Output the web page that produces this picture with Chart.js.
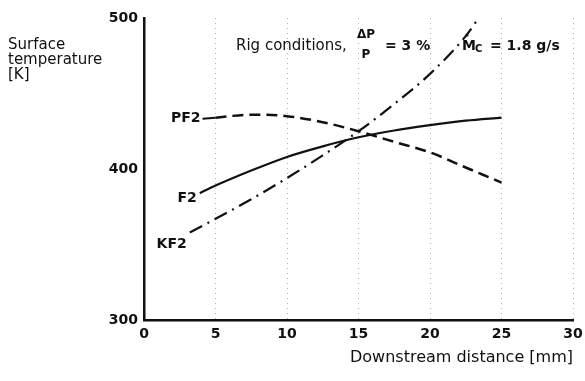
<!DOCTYPE html>
<html>
<head>
<meta charset="utf-8">
<script src="https://cdn.jsdelivr.net/npm/chart.js@4.4.1/dist/chart.umd.min.js"></script>
<style>
  html, body { margin: 0; padding: 0; background: #fff; }
  #wrap { width: 585px; height: 381px; }
</style>
</head>
<body>
<div id="wrap"><canvas id="chart"></canvas></div>
<script>
// values
const xTicks = [0, 5, 10, 15, 20, 25, 30];
const yTicks = [300, 400, 500];

const pf2X = [5, 7.5, 10, 12.5, 15, 17.5, 20, 22.5, 25];
const pf2Y = [434, 436, 435, 431, 425, 418, 411, 401, 391];

const f2X = [3.9, 5, 7.5, 10, 12.5, 15, 17.5, 20, 22.5, 25];
const f2Y = [384, 389, 399, 408, 415, 421, 425.5, 429, 432, 434];

const kf2X = [3.2, 5, 7.5, 10, 12.5, 15, 17.5, 20, 22.5, 23.4];
const kf2Y = [358, 367, 380, 394, 409, 425, 443, 463, 488, 500];

const seriesNames = ['PF2', 'F2', 'KF2'];
const yTitle = ['Surface', 'temperature', '[K]'];
const xTitle = 'Downstream distance [mm]';

function pts(xs, ys) {
  return xs.map((x, i) => ({ x: x, y: ys[i] }));
}

const FONT = 'DejaVu Sans';

// titles, curve labels and the rig conditions note
const notes = {
  id: 'notes',
  afterDraw(chart) {
    const ctx = chart.ctx;
    const xs = chart.scales.x, ys = chart.scales.y;
    ctx.save();
    ctx.fillStyle = '#111';
    ctx.strokeStyle = '#111';

    // y title, horizontal in the corner
    ctx.font = '15px ' + FONT;
    ctx.textAlign = 'left';
    ctx.textBaseline = 'middle';
    yTitle.forEach((t, i) => ctx.fillText(t, 8, 45 + i * 15));

    // curve labels next to the start of each curve
    ctx.font = 'bold 14px ' + FONT;
    ctx.textAlign = 'right';
    let px = xs.getPixelForValue(pf2X[0]), py = ys.getPixelForValue(pf2Y[0]);
    ctx.fillText(seriesNames[0], px - 15, py + 1);
    ctx.lineWidth = 2;
    ctx.beginPath();
    ctx.moveTo(px - 13, py + 1);
    ctx.lineTo(px, py);
    ctx.stroke();

    px = xs.getPixelForValue(f2X[0]); py = ys.getPixelForValue(f2Y[0]);
    ctx.fillText(seriesNames[1], px - 3, py + 5);

    px = xs.getPixelForValue(kf2X[0]); py = ys.getPixelForValue(kf2Y[0]);
    ctx.fillText(seriesNames[2], px - 3, py + 12);

    // rig conditions
    ctx.textAlign = 'left';
    ctx.font = '15px ' + FONT;
    const y = 46;
    ctx.fillText('Rig conditions,', 236, y);
    // fraction ΔP / P
    ctx.font = 'bold 12px ' + FONT;
    ctx.textAlign = 'center';
    ctx.fillText('\u0394P', 366, 35);
    ctx.fillText('P', 366, 55);
    ctx.textAlign = 'left';
    ctx.font = 'bold 14px ' + FONT;
    ctx.fillText('= 3 %', 385, y);
    ctx.fillText('M', 462, y);
    ctx.beginPath();
    ctx.arc(467, y - 11, 1.5, 0, Math.PI * 2);
    ctx.fill();
    ctx.font = 'bold 10px ' + FONT;
    ctx.fillText('C', 475, y + 3);
    ctx.font = 'bold 14px ' + FONT;
    ctx.fillText('= 1.8 g/s', 490, y);
    ctx.restore();
  }
};

new Chart(document.getElementById('chart'), {
  type: 'line',
  data: {
    datasets: [
      {
        label: seriesNames[0],
        data: pts(pf2X, pf2Y),
        borderColor: '#111',
        borderWidth: 2.5,
        borderDash: [11, 6],
        pointRadius: 0,
        cubicInterpolationMode: 'monotone'
      },
      {
        label: seriesNames[1],
        data: pts(f2X, f2Y),
        borderColor: '#111',
        borderWidth: 2.2,
        pointRadius: 0,
        cubicInterpolationMode: 'monotone'
      },
      {
        label: seriesNames[2],
        data: pts(kf2X, kf2Y),
        borderColor: '#111',
        borderWidth: 2.2,
        borderDash: [14, 6, 2, 6],
        pointRadius: 0,
        cubicInterpolationMode: 'monotone'
      }
    ]
  },
  options: {
    responsive: true,
    maintainAspectRatio: false,
    animation: false,
    devicePixelRatio: 1,
    layout: { padding: { top: 18, right: 0, bottom: 0, left: 0 } },
    plugins: {
      legend: { display: false },
      tooltip: { enabled: false }
    },
    scales: {
      x: {
        type: 'linear',
        min: 0,
        max: 30,
        afterBuildTicks(s) { s.ticks = xTicks.map(v => ({ value: v })); },
        afterFit(s) { s.height = 61; s.paddingRight = 12; },
        ticks: { color: '#111', padding: 6, font: { family: FONT, size: 14, weight: 'bold' } },
        grid: { color: 'rgba(0,0,0,0.3)', lineWidth: 1, drawTicks: false },
        border: { color: '#111', width: 2.5, dash: [1, 4] },
        title: {
          display: true,
          text: xTitle,
          align: 'end',
          color: '#111',
          font: { family: FONT, size: 16 },
          padding: { top: 0, bottom: 14 }
        }
      },
      y: {
        min: 300,
        max: 500,
        afterBuildTicks(s) { s.ticks = yTicks.map(v => ({ value: v })); },
        afterFit(s) { s.width = 144; },
        ticks: { color: '#111', padding: 6, font: { family: FONT, size: 14, weight: 'bold' } },
        grid: { display: false, drawTicks: false },
        border: { color: '#111', width: 2.5 }
      }
    }
  },
  plugins: [notes]
});
</script>
</body>
</html>
